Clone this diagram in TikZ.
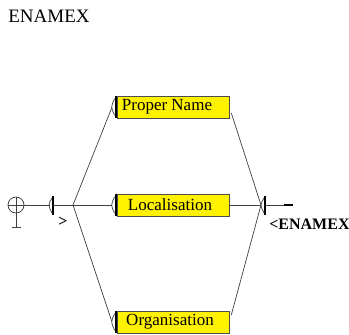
\documentclass[tikz,border=0pt]{standalone}
\usepackage{fontspec}
\setmainfont{Liberation Serif}
\usetikzlibrary{calc}
\begin{document}
\begin{tikzpicture}[x=1pt,y=-1pt,line width=0.7pt,
  ubox/.style={draw=black!70,line width=0.6pt,fill=yellow,minimum width=112,minimum height=22,inner sep=0,font=\rmfamily\fontsize{17}{17}\selectfont},
  conn/.style={draw=black!75,line width=0.7pt},
  thick bar/.style={line width=1.6pt},
  outtext/.style={font=\rmfamily\bfseries\fontsize{16}{16}\selectfont,inner sep=0,anchor=west}]
\useasboundingbox (0,0) rectangle (349,335);
\clip (0,0) rectangle (349,335);
% title
\node[anchor=west,inner sep=0,font=\rmfamily\fontsize{19}{19}\selectfont] (title) at (8,16) {ENAMEX};
% boxes
\node[ubox] (pn) at (173,107) {\hspace*{-12pt}Proper Name};
\node[ubox] (loc) at (173,205) {\hspace*{-6pt}Localisation};
\node[ubox] (org) at (173,322) {\hspace*{-6pt}Organisation};
\foreach \n in {pn,loc,org}{
  \draw[thick bar] ($(\n.north west)+(-1,0)$) -- ($(\n.south west)+(-1,0)$);
  \draw[conn] ($(\n.north west)+(-2,3)$) .. controls ($(\n.west)+(-6,0)$) .. ($(\n.south west)+(-2,-3)$);
}
% initial state
\node[circle,draw=black!80,line width=0.7pt,minimum size=16,inner sep=0] (init) at (16,205) {};
\draw[conn] (init.west) -- (init.east);
\draw[conn] (init.north) -- (init.south);
\coordinate (tail) at (16,227);
\draw[conn] (init.south) -- (tail);
\draw[conn] ($(tail)+(-4,0)$) -- ($(tail)+(5,0)$);
% start box
\coordinate (sb) at (53,205);
\draw[conn] (init.east) -- ($(sb)+(-3,0)$);
\draw[thick bar] ($(sb)+(0,-9)$) -- ($(sb)+(0,10)$);
\draw[conn] ($(sb)+(-1,-7)$) .. controls ($(sb)+(-5,0)$) .. ($(sb)+(-1,8)$);
\node[outtext] (gt) at (58,222) {>};
\coordinate (fork) at (73,205);
\draw[conn] (sb) -- (fork);
% left connections
\draw[conn] (fork) -- ($(pn.west)+(-5,1)$);
\draw[conn] (fork) -- ($(loc.west)+(-5,0)$);
\draw[conn] (fork) -- ($(org.west)+(-5,-1)$);
% right connections
\coordinate (join) at (261,205);
\draw[conn] ($(pn.east)+(2,6)$) -- (join);
\draw[conn] (loc.east) -- (join);
\draw[conn] ($(org.east)+(2,-7)$) -- (join);
% final box
\coordinate (fb) at (265,205);
\draw[thick bar] ($(fb)+(0,-9)$) -- ($(fb)+(0,10)$);
\draw[conn] ($(fb)+(-1,-7)$) .. controls ($(fb)+(-5,0)$) .. ($(fb)+(-1,8)$);
\coordinate (fend) at (284,205);
\draw[conn] (fb) -- (fend);
\draw[line width=2.4pt] (fend) -- ($(fend)+(9,0)$);
\node[outtext] (out) at (269,224) {<ENAMEX>};
\end{tikzpicture}
\end{document}
